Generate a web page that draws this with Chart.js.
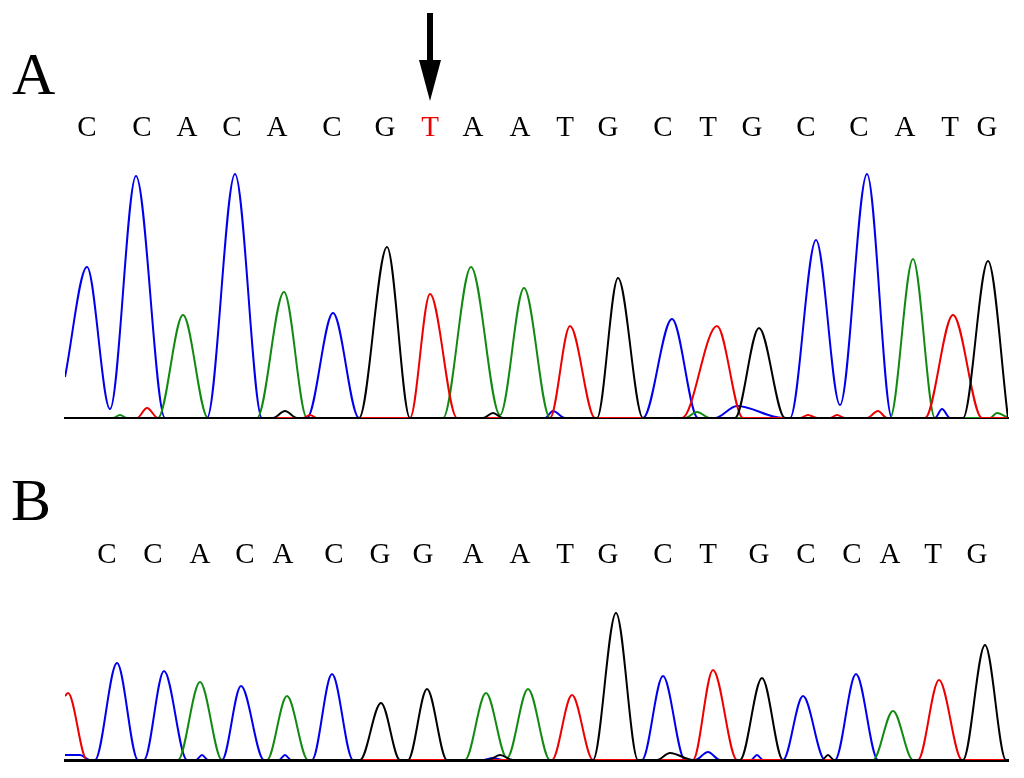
<!DOCTYPE html>
<html>
<head>
<meta charset="utf-8">
<script src="https://cdn.jsdelivr.net/npm/chart.js@4/dist/chart.umd.min.js"></script>
<style>
  body { margin: 0; background: #fff; }
  #wrap { position: relative; width: 1024px; height: 778px; overflow: hidden; }
  .panel { position: absolute; left: 0; }
  .tag { position: absolute; font-family: "Liberation Serif", "Times New Roman", serif; font-size: 60px; line-height: 1; color: #000; }
</style>
</head>
<body>
<div id="wrap">
  <canvas id="chartA" class="panel" width="1024" height="430" style="top:0"></canvas>
  <canvas id="chartB" class="panel" width="1024" height="338" style="top:440px"></canvas>
  <div class="tag" style="left:12px;top:44px">A</div>
  <div class="tag" style="left:11px;top:470px">B</div>
</div>
<script>
// scan positions run 0..943, signal in arbitrary units
const scanMax = 943;

// panel A: base calls and where they sit on the scan axis
const callsA = ["C","C","A","C","A","C","G","T","A","A","T","G","C","T","G","C","C","A","T","G"];
const callPosA = [22,77,122,167,212,267,320,365,408,455,500,543,598,643,687,741,794,840,885,922];
const mutationIndex = 7;

// panel A traces as [scan, signal]
const traceA_C = [[0,41],[22,151],[45,9],[71,242],[100,0],[142,0],[170,244],[197,0],[242,0],[268,105],[294,0],
  [480,0],[488,7],[500,0],[578,0],[607,99],[633,0],[650,0],[672,12],[718,0],[725,0],[751,178],[775,13],[802,244],[827,0],
  [870,0],[877,9],[885,0],[943,0]];
const traceA_A = [[0,0],[48,0],[55,3],[62,0],[93,0],[118,103],[143,0],[192,0],[219,126],[242,0],[378,0],[406,151],[435,3],
  [459,130],[485,0],[620,0],[632,6],[645,0],[825,0],[848,159],[870,0],[925,0],[932,5],[943,0]];
const traceA_G = [[0,0],[208,0],[220,7],[232,0],[294,0],[322,171],[345,0],[418,0],[428,5],[438,0],[532,0],[553,140],[578,0],
  [670,0],[694,90],[720,0],[898,0],[923,157],[943,0]];
const traceA_T = [[0,0],[72,0],[82,10],[93,0],[238,0],[245,3],[252,0],[345,0],[365,124],[392,0],[485,0],[505,92],[530,0],
  [617,0],[652,92],[678,0],[735,0],[743,3],[752,0],[765,0],[772,3],[780,0],[802,0],[813,7],[822,0],[860,0],[888,103],[917,0],[943,0]];

// panel B
const callsB = ["C","C","A","C","A","C","G","G","A","A","T","G","C","T","G","C","C","A","T","G"];
const callPosB = [42,88,135,180,218,269,315,358,408,455,500,543,598,643,694,741,787,825,868,912];

const traceB_C = [[0,5],[15,5],[25,0],[30,0],[52,97],[73,0],[79,0],[99,89],[122,0],[131,0],[137,5],[143,0],[157,0],[176,74],[199,0],
  [214,0],[220,5],[226,0],[247,0],[267,86],[288,0],[418,0],[428,2],[438,0],[577,0],[598,84],[620,0],[630,0],[643,8],[655,0],
  [686,0],[692,5],[698,0],[718,0],[738,64],[760,0],[770,0],[791,86],[813,0],[943,0]];
const traceB_A = [[0,0],[113,0],[135,78],[157,0],[202,0],[222,64],[243,0],[400,0],[421,67],[442,2],[463,71],[485,0],
  [808,0],[828,49],[848,0],[943,0]];
const traceB_G = [[0,0],[295,0],[316,57],[335,0],[343,0],[362,71],[382,0],[423,0],[435,5],[448,0],[528,0],[551,147],[573,0],
  [592,0],[605,7],[628,0],[675,0],[697,82],[718,0],[757,0],[763,5],[769,0],[898,0],[920,115],[941,0],[943,0]];
const traceB_T = [[0,64],[3,67],[22,0],[487,0],[507,65],[528,0],[628,0],[648,90],[672,0],[853,0],[874,80],[897,0],[943,0]];

const colours = { G: "#000000", T: "#ee0000", A: "#128a12", C: "#0000ee" };
const serif = "'Liberation Serif', 'Times New Roman', serif";

function toPoints(pairs) {
  return pairs.map(p => ({ x: p[0], y: p[1] }));
}

function traceSet(label, pairs) {
  return {
    label,
    data: toPoints(pairs),
    borderColor: colours[label],
    borderWidth: 2,
    pointRadius: 0,
    fill: false,
    cubicInterpolationMode: "monotone"
  };
}

// arrow over the mutated base
const arrowPlugin = {
  id: "arrow",
  afterDraw(chart) {
    if (chart.canvas.id !== "chartA") return;
    const x = chart.scales.calls.getPixelForValue(callPosA[mutationIndex]);
    const ctx = chart.ctx;
    ctx.save();
    ctx.fillStyle = "#000";
    ctx.fillRect(x - 3, 13, 6, 52);
    ctx.beginPath();
    ctx.moveTo(x - 11, 60);
    ctx.lineTo(x + 11, 60);
    ctx.lineTo(x, 101);
    ctx.closePath();
    ctx.fill();
    ctx.restore();
  }
};

function makeChart(id, traces, calls, callPos, yMax, topHeight, labelPad, bottomPad, baseWidth, redIndex) {
  return new Chart(document.getElementById(id), {
    type: "line",
    data: {
      datasets: [
        traceSet("G", traces.G),
        traceSet("T", traces.T),
        traceSet("A", traces.A),
        traceSet("C", traces.C)
      ]
    },
    options: {
      responsive: false,
      animation: false,
      events: [],
      layout: { padding: { left: 65, right: 16, top: 0, bottom: bottomPad } },
      plugins: { legend: { display: false }, tooltip: { enabled: false } },
      scales: {
        x: {
          type: "linear", min: 0, max: scanMax,
          grid: { display: false, drawTicks: false },
          ticks: { display: false },
          border: { display: true, color: "#000", width: baseWidth }
        },
        calls: {
          type: "linear", position: "top", min: 0, max: scanMax,
          grid: { display: false, drawTicks: false },
          border: { display: false },
          afterBuildTicks: s => { s.ticks = callPos.map(v => ({ value: v })); },
          afterFit: s => { s.height = topHeight; },
          ticks: {
            autoSkip: false, maxRotation: 0, padding: labelPad,
            font: { family: serif, size: 29 },
            color: c => (c.index === redIndex ? "#ee0000" : "#000"),
            callback: (v, i) => calls[i]
          }
        },
        y: { display: false, min: 0, max: yMax }
      }
    },
    plugins: [arrowPlugin]
  });
}

makeChart("chartA", { C: traceA_C, A: traceA_A, G: traceA_G, T: traceA_T }, callsA, callPosA, 250, 168, 22, 12, 2, mutationIndex);
makeChart("chartB", { C: traceB_C, A: traceB_A, G: traceB_G, T: traceB_T }, callsB, callPosB, 160, 160, 27, 18, 3, -1);
</script>
</body>
</html>
